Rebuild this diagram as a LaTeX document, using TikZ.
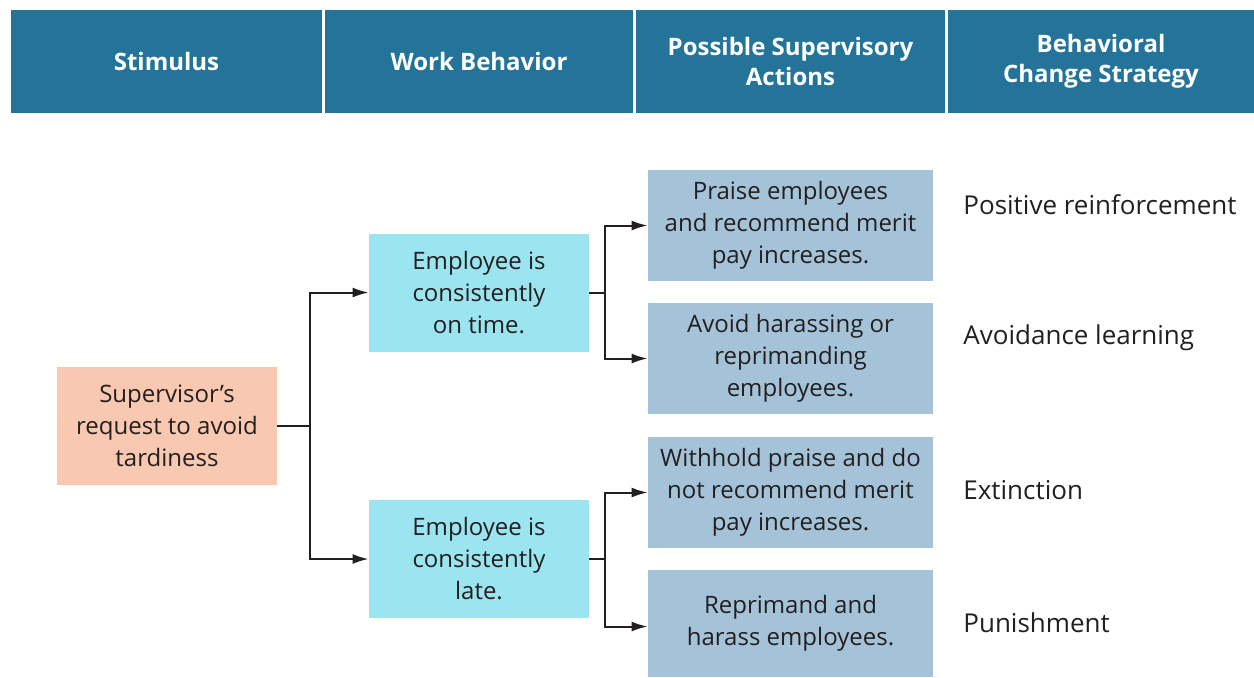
\documentclass[tikz,border=0pt]{standalone}
\usepackage{fontspec}
\setmainfont{Open Sans}
\usetikzlibrary{arrows.meta}
\definecolor{header}{RGB}{36,116,153}
\definecolor{stimfill}{RGB}{249,200,176}
\definecolor{behavfill}{RGB}{155,229,240}
\definecolor{actfill}{RGB}{165,195,216}
\definecolor{linecol}{RGB}{35,31,32}
\definecolor{textcol}{RGB}{35,31,32}

\begin{document}
\begin{tikzpicture}[
    x=0.5pt, y=-0.5pt,
    every node/.style={font=\fontsize{12}{16}\selectfont, text=textcol},
    headbox/.style={
        fill=header,
        inner sep=0pt,
        minimum height=51.5pt,
        align=center,
        text=white,
        font=\fontsize{12}{15}\selectfont\bfseries
    },
    box/.style={
        inner sep=0pt,
        minimum width=110pt,
        minimum height=59pt,
        align=center
    },
    actbox/.style={
        box,
        fill=actfill,
        minimum width=142.5pt,
        minimum height=55.5pt
    },
    strategy/.style={anchor=west, inner sep=0pt, font=\fontsize{13}{16}\selectfont},
    link/.style={draw=linecol, line width=1pt},
    arrow/.style={link, -{Latex[length=8pt,width=5pt]}}
]
\useasboundingbox (0,0) rectangle (1254,677);

% header row
\node[headbox, minimum width=155.5pt] (hstim) at (166.5,61.5) {Stimulus};
\node[headbox, minimum width=154pt] (hbeh) at (479,61.5) {Work Behavior};
\node[headbox, minimum width=154.5pt] (hact) at (790.5,61.5) {Possible Supervisory\\Actions};
\node[headbox, minimum width=153pt] (hstrat) at (1101,61.5) {Behavioral\\Change Strategy};

% stimulus and behaviors
\node[box, fill=stimfill] (stim) at (167,426) {Supervisor’s\\request to avoid\\tardiness};
\node[box, fill=behavfill] (ontime) at (479,292.5) {Employee is\\consistently\\on time.};
\node[box, fill=behavfill] (late) at (479,559) {Employee is\\consistently\\late.};

% supervisory actions
\node[actbox] (praise) at (790.5,225.5) {Praise employees\\and recommend merit\\pay increases.};
\node[actbox] (avoid) at (790.5,358.5) {Avoid harassing or\\reprimanding\\employees.};
\node[actbox] (withhold) at (790.5,492.5) {Withhold praise and do\\not recommend merit\\pay increases.};
\node[actbox, minimum height=53.5pt] (reprimand) at (790.5,623.5) {Reprimand and\\harass employees.};

% strategies
\node[strategy] (posre) at (963,205) {Positive reinforcement};
\node[strategy] (avlearn) at (963,338) {Avoidance learning};
\node[strategy] (extinct) at (963,490) {Extinction};
\node[strategy] (punish) at (963,623) {Punishment};

% connectors
\coordinate (sj) at (310,426);
\coordinate (oj) at (605,292.5);
\coordinate (lj) at (605,559);
\draw[link] (stim.east) -- (sj);
\draw[arrow] (sj) |- (ontime.west);
\draw[arrow] (sj) |- (late.west);
\draw[link] (ontime.east) -- (oj);
\draw[arrow] (oj) |- (praise.west);
\draw[arrow] (oj) |- (avoid.west);
\draw[link] (late.east) -- (lj);
\draw[arrow] (lj) |- (withhold.west);
\draw[arrow] (lj) |- ([yshift=-1.5pt]reprimand.west);
\end{tikzpicture}
\end{document}
